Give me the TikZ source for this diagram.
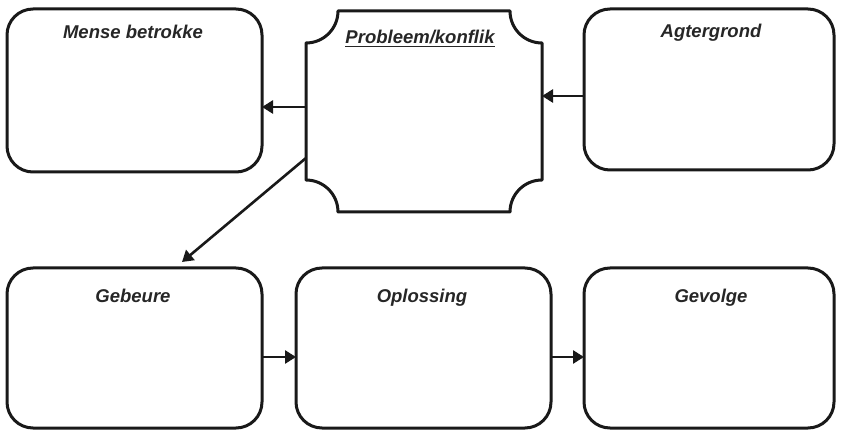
\documentclass[tikz,border=0pt]{standalone}
\usepackage{fontspec}
\setmainfont{Liberation Sans}
\usetikzlibrary{arrows.meta}
\begin{document}
\begin{tikzpicture}[x=1pt,y=-1pt,
  boxs/.style={draw=black!90,line width=3pt,rounded corners=26pt},
  lbl/.style={font=\fontsize{18.5}{20}\selectfont\bfseries\itshape,anchor=base,inner sep=0pt,text=black!85},
  conn/.style={draw=black!90,line width=2.6pt,-{Triangle[length=11pt,width=13pt]}}]
\useasboundingbox (0,0) rectangle (841,430);
% boxes
\draw[boxs] (7,9) rectangle (262,172);
\coordinate (mense) at (262,107);
\draw[boxs] (584,9) rectangle (834,170);
\coordinate (agter) at (584,96);
\draw[boxs] (7,268) rectangle (262,428);
\draw[boxs] (296,268) rectangle (551,428);
\draw[boxs] (584,268) rectangle (834,428);
\coordinate (geb) at (262,357);
\coordinate (oplL) at (296,357);
\coordinate (oplR) at (551,357);
\coordinate (gev) at (584,357);
\coordinate (gebT) at (182,262);
% probleem box with concave corners
\draw[draw=black!90,line width=3pt,line join=round]
  (338,11) -- (510,11) arc[start angle=180,end angle=90,radius=32] -- (542,180)
  arc[start angle=270,end angle=180,radius=32] -- (338,212)
  arc[start angle=0,end angle=-90,radius=32] -- (306,43)
  arc[start angle=90,end angle=0,radius=32] -- cycle;
\coordinate (probL) at (306,107);
\coordinate (probR) at (542,96);
\coordinate (probD) at (306,158);
% labels
\node[lbl] (t1) at (133,39) {Mense betrokke};
\node[lbl] (t2) at (420,44) {\underline{Probleem/konflik}};
\node[lbl] (t3) at (711,38) {Agtergrond};
\node[lbl] (t4) at (133,303) {Gebeure};
\node[lbl] (t5) at (422,303) {Oplossing};
\node[lbl] (t6) at (711,303) {Gevolge};
% connectors
\draw[conn] (probL) -- (mense);
\draw[conn] (agter) -- (probR);
\draw[conn] (probD) -- (gebT);
\draw[conn] (geb) -- (oplL);
\draw[conn] (oplR) -- (gev);
\end{tikzpicture}
\end{document}
